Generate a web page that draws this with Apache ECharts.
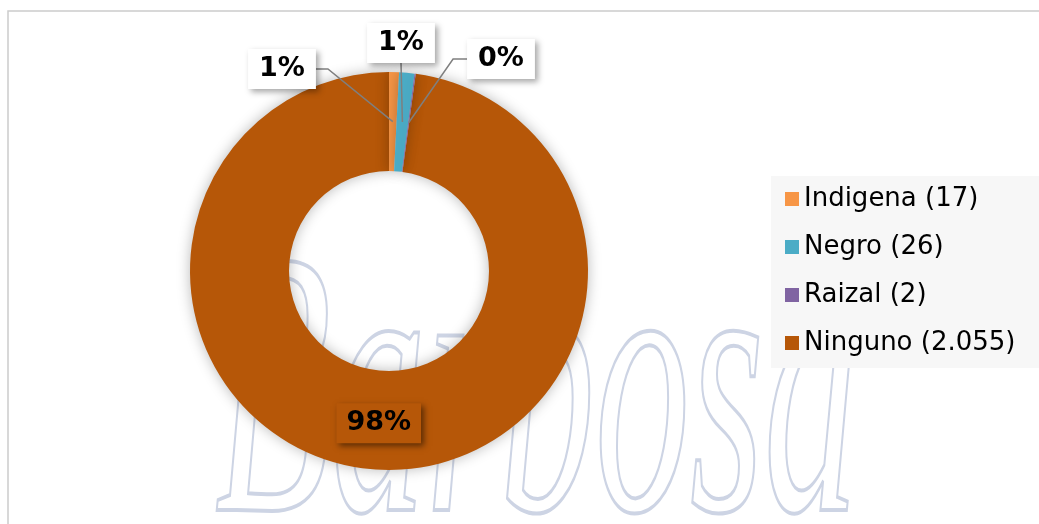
<!DOCTYPE html>
<html>
<head>
<meta charset="utf-8">
<script src="https://cdn.jsdelivr.net/npm/echarts@6/dist/echarts.min.js"></script>
<style>
html,body{margin:0;padding:0;background:#fff;}
#chart{width:1039px;height:524px;}
</style>
</head>
<body>
<div id="chart"></div>
<script>
const categories = ['Indigena', 'Negro', 'Raizal', 'Ninguno'];
const counts = [17, 26, 2, 2055];
const colors = ['#F79646', '#4BACC6', '#8064A2', '#B65708'];

function fmtCount(v) {
  return String(v).replace(/\B(?=(\d{3})+(?!\d))/g, '.');
}

const CX = 389, CY = 271, R0 = 100, R1 = 199;
const total = counts.reduce((a, b) => a + b, 0);
function midAnchor(i) {
  let before = 0;
  for (let k = 0; k < i; k++) before += counts[k];
  const a = (before + counts[i] / 2) / total * Math.PI * 2;
  const r = (R0 + R1) / 2;
  return [CX + r * Math.sin(a), CY - r * Math.cos(a)];
}

const chart = echarts.init(document.getElementById('chart'), null, {renderer: 'canvas'});

const labelBox = {
  show: true,
  position: 'outside',
  formatter: p => Math.round(p.percent) + '%',
  fontFamily: '"DejaVu Sans", Verdana, sans-serif',
  fontWeight: 'bold',
  fontSize: 27,
  lineHeight: 27,
  color: '#000',
  backgroundColor: '#ffffff',
  padding: [7, 11, 6, 11],
  shadowBlur: 6,
  shadowOffsetX: 3,
  shadowOffsetY: 3,
  shadowColor: 'rgba(0,0,0,0.35)'
};

// label box centres (by category index) and the side the leader line leaves from
const labelSpots = [
  {x: 282, y: 69, side: 'right'},
  {x: 401, y: 43, side: 'bottom'},
  {x: 501, y: 59, side: 'left'}
];

function buildItems(forLabels) {
  return categories.map((c, i) => {
    const item = {
      name: c + ' (' + fmtCount(counts[i]) + ')',
      value: counts[i],
      catIndex: i,
      itemStyle: {color: forLabels ? 'rgba(0,0,0,0)' : colors[i]}
    };
    if (forLabels && i === 3) {
      item.label = Object.assign({}, labelBox, {
        position: 'inside',
        padding: [7, 10, 6, 10],
        backgroundColor: colors[i],
        shadowColor: 'rgba(0,0,0,0.5)'
      });
      item.labelLine = {show: false};
    }
    return item;
  });
}

// draw the big slice first; start it where the small slices end so that
// the small slices begin at 12 o'clock
function order(items) {
  const last = items.length - 1;
  return [items[last]].concat(items.slice(0, last));
}
const startAngle = 90 - 360 + (counts[counts.length - 1] / total) * 360;
const ringData = order(buildItems(false));
const labelData = order(buildItems(true));

chart.setOption({
  animation: false,
  backgroundColor: '#ffffff',
  graphic: [
    {
      type: 'text',
      z: -10,
      x: 215,
      y: 600,
      scaleY: 2,
      silent: true,
      style: {
        text: 'Barbosa',
        font: 'italic 190px "Liberation Serif", serif',
        fill: 'none',
        stroke: '#cdd4e4',
        lineWidth: 2,
        verticalAlign: 'bottom'
      }
    },
    {
      type: 'rect',
      z: -5,
      silent: true,
      shape: {x: 8, y: 11, width: 1060, height: 600},
      style: {fill: 'none', stroke: '#cccccc', lineWidth: 1.5}
    }
  ],
  legend: {
    orient: 'vertical',
    left: 771,
    top: 176,
    backgroundColor: '#f7f7f7',
    padding: [8, 30, 10, 14],
    itemGap: 18,
    itemWidth: 14,
    itemHeight: 14,
    icon: 'rect',
    textStyle: {
      fontFamily: '"DejaVu Sans", Verdana, sans-serif',
      fontSize: 26,
      lineHeight: 30,
      color: '#000'
    },
    data: buildItems(false).map(d => d.name)
  },
  series: [
    {
      type: 'pie',
      z: 2,
      radius: [R0, R1],
      center: [CX, CY],
      startAngle: startAngle,
      clockwise: true,
      itemStyle: {
        shadowBlur: 14,
        shadowColor: 'rgba(0,0,0,0.28)'
      },
      label: {show: false},
      labelLine: {show: false},
      data: ringData
    },
    {
      // same slices, transparent, carrying the labels and leader lines above the ring
      type: 'pie',
      z: 3,
      silent: true,
      radius: [R0, R1],
      center: [CX, CY],
      startAngle: startAngle,
      clockwise: true,
      avoidLabelOverlap: false,
      label: labelBox,
      labelLine: {
        show: true,
        length: 20,
        length2: 10,
        lineStyle: {color: '#7f7f7f', width: 1.5}
      },
      labelLayout: function (p) {
        const ci = labelData[p.dataIndex].catIndex;
        const s = labelSpots[ci];
        if (!s) return {};
        const w = p.labelRect.width, h = p.labelRect.height;
        const anchor = midAnchor(ci);
        let pts;
        if (s.side === 'right') {
          pts = [[s.x + w / 2, s.y], [s.x + w / 2 + 12, s.y], anchor];
        } else if (s.side === 'left') {
          pts = [[s.x - w / 2, s.y], [s.x - w / 2 - 14, s.y], anchor];
        } else {
          pts = [[s.x, s.y + h / 2], [s.x, s.y + h / 2], anchor];
        }
        return {x: s.x, y: s.y, align: 'center', verticalAlign: 'middle', labelLinePoints: pts};
      },
      data: labelData
    }
  ]
});
</script>
</body>
</html>
